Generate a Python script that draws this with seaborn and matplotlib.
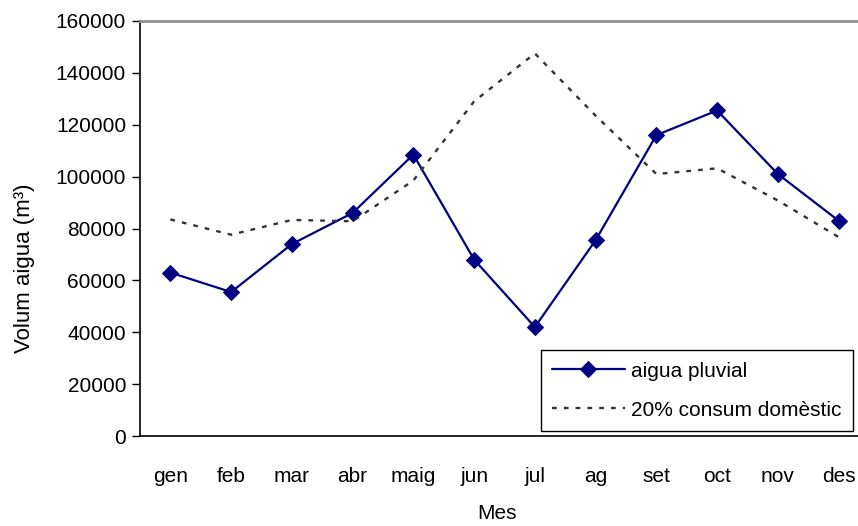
import matplotlib
matplotlib.use("Agg")
import matplotlib.pyplot as plt
from matplotlib.ticker import FixedLocator, NullFormatter
import seaborn as sns
import pandas as pd

months = ["gen", "feb", "mar", "abr", "maig", "jun", "jul", "ag", "set", "oct", "nov", "des"]
pluvial = [63000, 55500, 74000, 86000, 108500, 68000, 42000, 75500, 116000, 125500, 101000, 83000]
consum = [83500, 77600, 83300, 82800, 98500, 129000, 147500, 123500, 101000, 103200, 90800, 76700]
yticks = [0, 20000, 40000, 60000, 80000, 100000, 120000, 140000, 160000]

sns.set_style("white")
plt.rcParams["font.family"] = ["Liberation Sans", "DejaVu Sans"]
plt.rcParams["text.color"] = "black"
plt.rcParams["axes.labelcolor"] = "black"
plt.rcParams["xtick.color"] = "black"
plt.rcParams["ytick.color"] = "black"
FS = 15

df1 = pd.DataFrame({"Mes": months, "v": pluvial})
df2 = pd.DataFrame({"Mes": months, "v": consum})

fig = plt.figure(figsize=(8.58, 5.26), dpi=100)
ax = fig.add_axes([140 / 858, 1 - 436 / 526, 729 / 858, 415 / 526])

sns.lineplot(data=df1, x="Mes", y="v", ax=ax, color="#000080", lw=1.6,
             marker="D", markersize=8, markeredgecolor="#000080",
             label="aigua pluvial", sort=False)
sns.lineplot(data=df2, x="Mes", y="v", ax=ax, color="#333333", lw=1.7,
             linestyle=(0, (2, 3)), label="20% consum domèstic", sort=False)

ax.set_xlim(-0.5, 11.5)
ax.set_ylim(0, 160000)
ax.set_yticks(yticks)
ax.set_yticklabels([str(v) for v in yticks], fontsize=FS)
ax.set_xticks(range(len(months)))
ax.set_xticklabels(months, fontsize=FS)
ax.xaxis.set_minor_locator(FixedLocator([i - 0.5 for i in range(len(months) + 1)]))
ax.xaxis.set_minor_formatter(NullFormatter())
ax.tick_params(axis="x", which="major", length=0, pad=22)
ax.tick_params(axis="x", which="minor", length=6, width=1, color="black", direction="out")
ax.tick_params(axis="y", length=6, width=1, color="black", direction="out", pad=4, left=True)

ax.set_xlabel("Mes", fontsize=FS)
ax.xaxis.set_label_coords(0.49, -0.164)
ax.set_ylabel("Volum aigua (m³)", fontsize=16)
ax.yaxis.set_label_coords(-0.144, 0.405)

for s in ["left", "bottom"]:
    ax.spines[s].set_color("black")
    ax.spines[s].set_linewidth(1.2)
ax.spines["top"].set_color("#909090")
ax.spines["top"].set_linewidth(2)
ax.spines["right"].set_visible(False)

leg = ax.legend(loc="lower right", bbox_to_anchor=(0.978, 0.012), fontsize=FS,
                frameon=True, fancybox=False, edgecolor="black", framealpha=1,
                handlelength=3.5, borderaxespad=0, borderpad=0.55, labelspacing=0.95,
                handletextpad=0.3)
leg.get_frame().set_linewidth(1.0)

fig.savefig("out.png", dpi=100)
